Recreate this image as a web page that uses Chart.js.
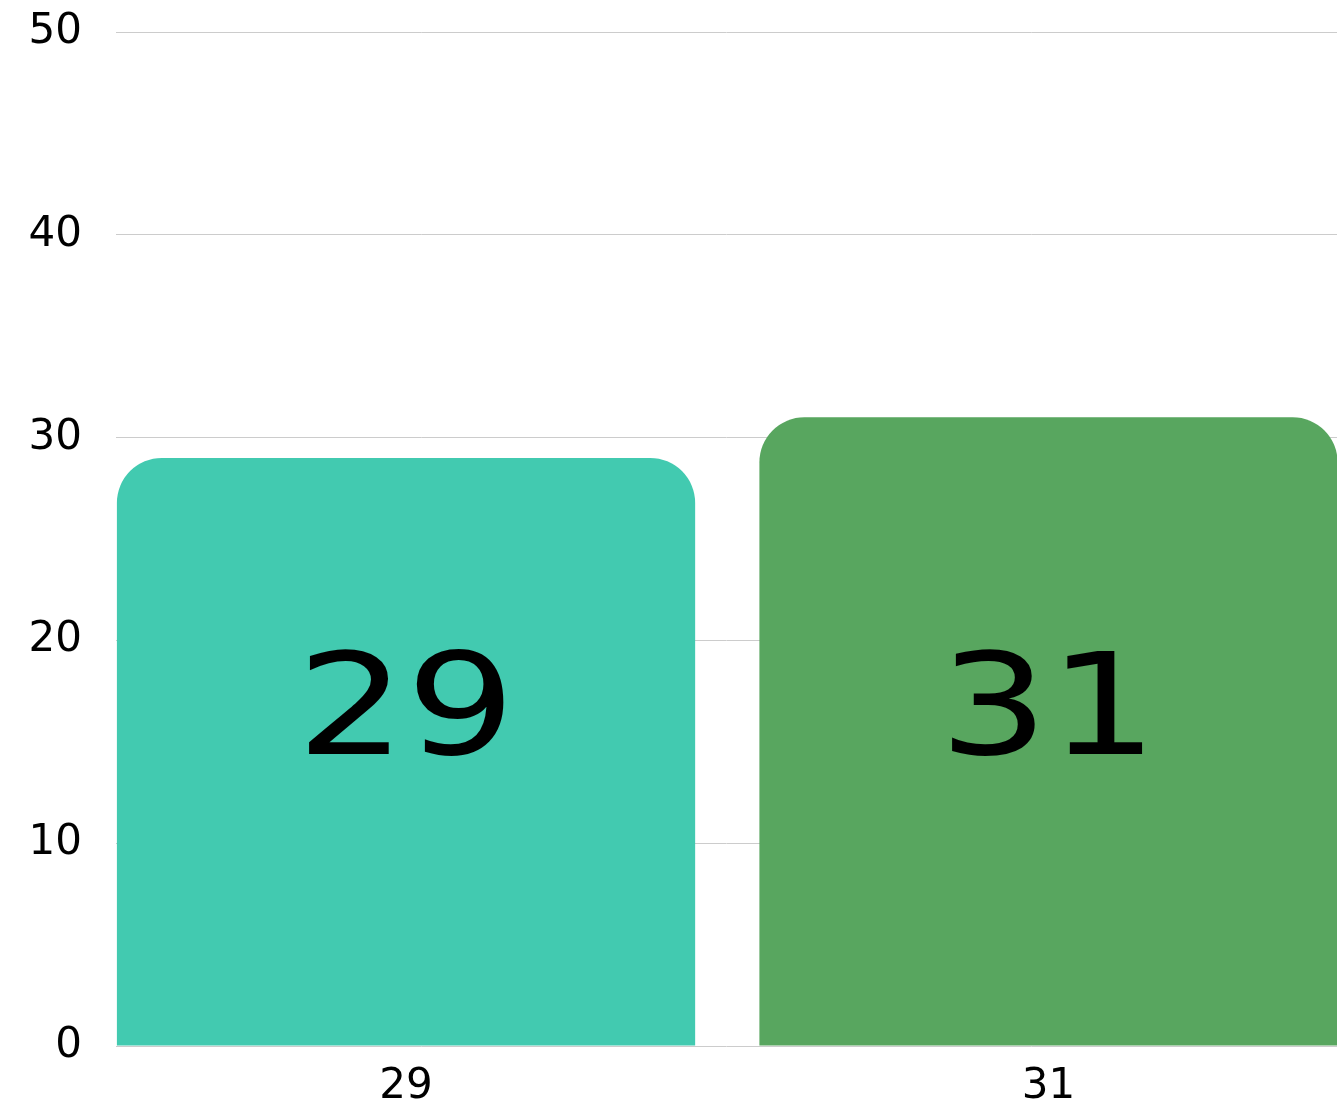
<!DOCTYPE html>
<html>
<head>
<meta charset="utf-8">
<script src="https://cdn.jsdelivr.net/npm/chart.js@4/dist/chart.umd.min.js"></script>
<style>
  html, body { margin: 0; padding: 0; background: #fff; }
  #wrap { width: 1337px; height: 1103px; }
</style>
</head>
<body>
<div id="wrap"><canvas id="chart"></canvas></div>
<script>
var labels = ['29', '31'];
var values = [29, 31];
var colors = ['#42cab0', '#58a65f'];
var yTicks = [0, 10, 20, 30, 40, 50];
var labelLevel = 14.4; // baseline of the big numbers, in y units

// big value text inside each bar, a bit stretched like the wide display face
var insideLabels = {
  id: 'insideLabels',
  afterDatasetsDraw: function(chart) {
    var ctx = chart.ctx;
    var meta = chart.getDatasetMeta(0);
    var y = chart.scales.y.getPixelForValue(labelLevel);
    ctx.save();
    ctx.fillStyle = '#000';
    ctx.font = '141px "DejaVu Sans"';
    ctx.textAlign = 'center';
    ctx.textBaseline = 'alphabetic';
    meta.data.forEach(function(bar, i) {
      ctx.save();
      ctx.translate(bar.x, y);
      ctx.scale(1.22, 1);
      ctx.fillText(String(values[i]), 0, 0);
      ctx.restore();
    });
    ctx.restore();
  }
};

var points = values.map(function(v, i) { return { x: i, y: v }; });

var ctx = document.getElementById('chart');
var myChart = new Chart(ctx, {
  type: 'bar',
  plugins: [insideLabels],
  data: {
    datasets: [{
      data: points,
      backgroundColor: colors,
      borderWidth: 0,
      borderRadius: 45,
      borderSkipped: 'start',
      barPercentage: 0.9,
      categoryPercentage: 1
    }]
  },
  options: {
    responsive: true,
    maintainAspectRatio: false,
    animation: false,
    layout: { padding: 0 },
    plugins: {
      legend: { display: false },
      tooltip: { enabled: false }
    },
    scales: {
      x: {
        type: 'linear',
        offset: false,
        min: -0.4514,
        max: 1.449,
        afterBuildTicks: function(axis) {
          axis.ticks = labels.map(function(l, i) { return { value: i }; });
        },
        afterFit: function(axis) { axis.height = 57; },
        grid: { display: false, drawTicks: false },
        border: { display: false },
        ticks: {
          color: '#000',
          padding: 16,
          font: { family: 'DejaVu Sans', size: 42 },
          callback: function(v) { return labels[v]; }
        }
      },
      y: {
        min: 0,
        max: 50,
        afterBuildTicks: function(axis) {
          axis.ticks = yTicks.map(function(v) { return { value: v }; });
        },
        afterFit: function(axis) {
          axis.width = 116;
          axis.paddingTop = 32;
          axis.paddingBottom = 0;
        },
        grid: { color: '#cccccc', lineWidth: 1, drawTicks: false },
        border: { display: false },
        ticks: {
          color: '#000',
          padding: 34,
          font: { family: 'DejaVu Sans', size: 42 }
        }
      }
    }
  }
});
</script>
</body>
</html>
